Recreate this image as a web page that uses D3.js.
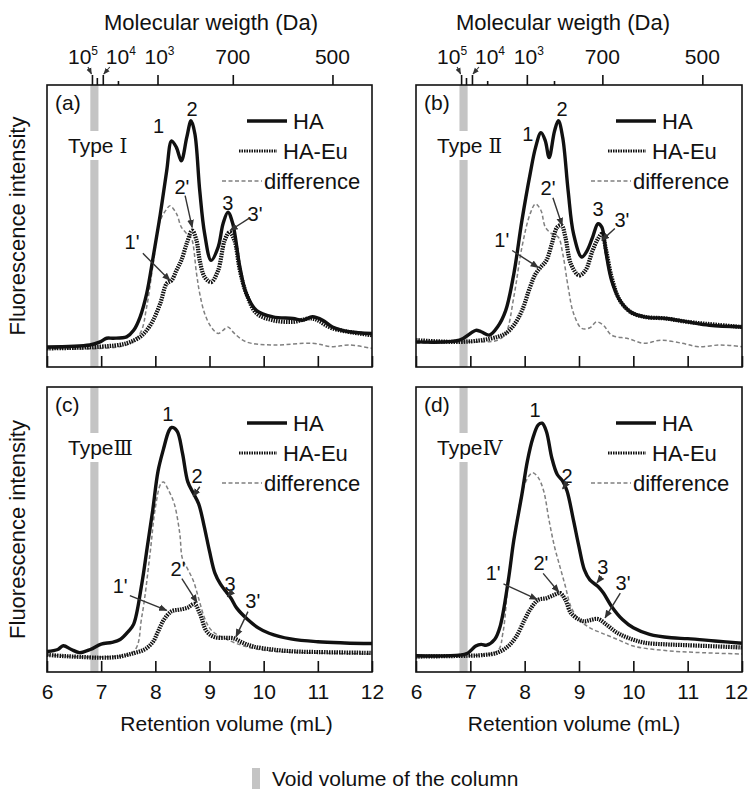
<!DOCTYPE html>
<html>
<head>
<meta charset="utf-8">
<script src="https://cdn.jsdelivr.net/npm/d3@7"></script>
<style>
  body { margin: 0; background: #fff; }
  svg { font-family: "Liberation Sans", Arial, sans-serif; }
</style>
</head>
<body>
<div id="chart"></div>
<script>
// retention volume (mL) vs fluorescence intensity (arbitrary, 0-100 of panel height)
var haA = [[6.0,7.1],[6.79,7.8],[6.98,8.9],[7.1,10.2],[7.22,10.2],[7.47,10.7],[7.6,13],[7.72,17.8],[7.84,26],[7.96,39],[8.09,54],[8.21,69.6],[8.3,80.2],[8.39,77.8],[8.48,73.1],[8.58,81.4],[8.66,87.3],[8.73,82.7],[8.82,62.5],[8.91,47.3],[9.03,37.8],[9.16,42.5],[9.25,50.8],[9.34,54.9],[9.43,50.8],[9.56,35.5],[9.68,26],[9.87,20],[10.17,17.8],[10.54,17.2],[10.72,16.6],[10.9,17.8],[11.09,16.6],[11.27,14.2],[11.58,12.5],[12.0,11.9]];
var euA = [[6.0,6.6],[6.98,7.2],[7.47,8.4],[7.72,10.7],[7.84,13],[7.96,16.6],[8.09,22.5],[8.21,29.6],[8.3,30.7],[8.39,34.3],[8.48,37.8],[8.58,43.8],[8.68,48.4],[8.76,44.9],[8.82,37.8],[8.91,31.9],[9.03,30.1],[9.16,34.3],[9.28,44.9],[9.37,47.8],[9.46,44.9],[9.56,34.3],[9.68,26],[9.87,19],[10.17,16.6],[10.54,16],[10.9,17.2],[11.27,13.7],[12.0,11.3]];
var difA = [[6.0,6.6],[7.47,7.8],[7.72,12],[7.84,21.3],[7.96,36.6],[8.09,51.9],[8.21,56],[8.27,57.2],[8.39,54.4],[8.48,49.6],[8.58,47.3],[8.66,46],[8.76,33.2],[8.82,26],[8.91,19],[9.03,14.2],[9.16,11.9],[9.25,13],[9.34,14.2],[9.46,11.9],[9.68,8.9],[10.17,7.8],[10.9,8.4],[11.27,7.2],[11.58,7.8],[12.0,6.6]];

var haB = [[6.0,8.9],[6.8,9.5],[7.0,11.9],[7.1,13],[7.2,12.5],[7.35,11.3],[7.5,14.2],[7.65,20],[7.8,33],[7.95,52],[8.1,68.4],[8.2,77.8],[8.3,83.1],[8.38,80.2],[8.45,74.3],[8.55,83.7],[8.62,87.3],[8.7,81.4],[8.8,62.5],[8.9,47.2],[9.05,39],[9.15,41.3],[9.25,46],[9.35,50.8],[9.42,49.6],[9.5,40.2],[9.6,30.7],[9.75,23.7],[9.95,19.5],[10.2,17.8],[10.6,17.2],[11.0,16],[11.4,14.8],[12.0,14.2]];
var euB = [[6.0,9.5],[6.8,8.9],[7.2,9.5],[7.5,10.7],[7.65,11.9],[7.8,14.8],[7.95,20],[8.1,28.4],[8.2,33],[8.3,35.5],[8.4,37.8],[8.5,43.7],[8.6,49.6],[8.68,50.2],[8.75,46],[8.85,36.6],[9.0,32.5],[9.12,34.3],[9.25,41.3],[9.35,45.5],[9.42,47.2],[9.5,41.3],[9.6,31.9],[9.75,23.7],[9.95,19.5],[10.2,17.8],[10.6,17.2],[11.0,16],[12.0,14.2]];
var difB = [[6.0,8.4],[6.8,8.9],[7.5,9.5],[7.65,11.9],[7.8,24.8],[7.95,42.5],[8.1,54.3],[8.2,57.8],[8.3,55.5],[8.38,49.6],[8.5,47.2],[8.62,46],[8.7,40.3],[8.8,28.4],[8.9,19],[9.05,13.7],[9.2,13.9],[9.32,16],[9.45,14.8],[9.6,11.3],[9.9,10.1],[10.2,8.4],[10.5,9.5],[10.9,8.4],[11.2,7.2],[11.6,7.8],[12.0,7.2]];

var haC = [[6.0,7.2],[6.2,7.9],[6.3,9.2],[6.45,7.9],[6.6,6.8],[6.8,7.9],[7.0,9.8],[7.2,10.4],[7.35,11.4],[7.5,14.2],[7.6,16.8],[7.75,30.9],[7.85,43.7],[7.95,56.5],[8.05,70.5],[8.15,78.2],[8.25,84.6],[8.3,85.8],[8.4,84.6],[8.5,76.9],[8.6,66.7],[8.7,62.8],[8.8,59],[8.9,51.3],[9.0,42.4],[9.1,34.7],[9.2,30.9],[9.3,28.3],[9.4,25.8],[9.5,22.5],[9.7,18.5],[9.9,15.5],[10.1,13.6],[10.5,11.6],[11.0,10.6],[11.5,10.2],[12.0,10]];
var euC = [[6.0,6.0],[6.3,5.6],[6.6,5.3],[7.0,5.0],[7.3,5.3],[7.6,6.6],[7.8,7.9],[7.95,10.4],[8.05,14.2],[8.15,18.1],[8.3,21.3],[8.45,21.9],[8.6,22.6],[8.72,23.9],[8.82,20.6],[8.95,14.2],[9.1,12.2],[9.3,12],[9.45,11.8],[9.6,10.4],[9.8,9],[10.2,7.8],[10.6,7.2],[11.0,7],[12.0,6.7]];
var difC = [[6.0,6.0],[7.0,5.3],[7.6,7.2],[7.75,19.4],[7.9,41.1],[8.0,57.7],[8.1,66],[8.15,66.7],[8.25,63.5],[8.35,59],[8.45,48.8],[8.5,39.8],[8.6,36],[8.7,32.1],[8.8,25.8],[8.9,19.4],[9.0,15.5],[9.1,13.6],[9.3,11.6],[9.5,10],[9.8,8.3],[10.2,7.2],[11.0,6.6],[12.0,6.3]];

var haD = [[6.0,5.7],[6.8,5.9],[6.95,6.6],[7.1,9.1],[7.2,9.7],[7.3,9.4],[7.45,11.5],[7.55,16.1],[7.7,32.3],[7.8,46.2],[7.95,62.4],[8.05,74],[8.15,82],[8.25,86.7],[8.32,87.3],[8.4,84.4],[8.5,75.1],[8.6,69.3],[8.7,67],[8.78,63.5],[8.9,53.1],[9.0,43.9],[9.1,35.8],[9.2,32.3],[9.35,30],[9.45,27.7],[9.6,23],[9.8,18.4],[10.0,15.5],[10.3,13.2],[10.7,12],[11.0,11.7],[11.5,10.9],[12.0,10.1]];
var euD = [[6.0,5.4],[6.95,5.7],[7.2,5.9],[7.5,6.8],[7.7,9.1],[7.85,12.6],[8.0,18.4],[8.1,21.9],[8.25,25.3],[8.4,25.9],[8.55,27.1],[8.65,27.7],[8.75,25.3],[8.85,20.7],[9.0,18.4],[9.1,17.8],[9.2,18.2],[9.35,18.6],[9.5,16.7],[9.7,13.8],[9.9,12],[10.2,10.3],[10.6,9.7],[11.0,9.4],[12.0,8.6]];
var difD = [[6.0,5.4],[7.0,5.7],[7.5,7.4],[7.6,13.8],[7.7,32.3],[7.85,53.1],[8.0,65.9],[8.1,69.3],[8.15,69.9],[8.25,68.2],[8.35,63.5],[8.45,53.1],[8.55,43.9],[8.65,36.9],[8.75,30],[8.85,23],[9.0,18.4],[9.2,15.5],[9.4,13.8],[9.7,11.5],[10.0,9.1],[10.5,7.7],[11.0,7.0],[12.0,6.3]];

// peak labels: [text, mL, intensity]
var peaksA = [["1",8.06,85.5],["2",8.68,91.5],["3",9.34,58]];
var peaksB = [["1",8.06,82.7],["2",8.69,91.5],["3",9.35,56.2]];
var peaksC = [["1",8.23,90.5]];
var peaksD = [["1",8.19,92]];
// arrowed labels: [text, labelX, labelY, fromX, fromY, toX, toY]
var arrowsA = [["2'",8.49,64,8.55,60.8,8.68,49.5],["1'",7.57,44.2,7.77,40.3,8.27,30.7],["3'",9.84,54.4,9.75,53,9.38,48.4]];
var arrowsB = [["2'",8.43,63.6,8.52,60,8.69,50.2],["1'",7.58,44.9,7.77,41.3,8.25,35.3],["3'",9.79,52,9.66,49.1,9.42,44.9]];
var arrowsC = [["2",8.77,68.8,8.82,65,8.7,61.6],["3",9.38,31,9.41,28,9.33,26.4],["2'",8.42,36,8.49,32.8,8.77,24.4],["1'",7.35,30.2,7.53,26.8,8.21,21.6],["3'",9.8,25,9.71,21.2,9.49,12.4]];
var arrowsD = [["2",8.78,68.8,8.78,66.5,8.7,64.3],["3",9.44,36.8,9.42,33.4,9.33,31.3],["2'",8.3,38.2,8.34,34.6,8.63,28],["1'",7.42,34.7,7.61,30.9,8.23,25.5],["3'",9.81,31.3,9.76,27.7,9.48,19]];

var panelNames = ["(a)", "(b)", "(c)", "(d)"];
var typeNames = ["Type ", "Type ", "Type", "Type"];
var typeNumerals = ["\u2160", "\u2161", "\u2162", "\u2163"];
var seriesNames = ["HA", "HA-Eu", "difference"];
var voidRange = [6.8, 6.95];
var xTicks = [6, 7, 8, 9, 10, 11, 12];
var mwTicks = [6.83, 7.03, 8.04, 9.43, 11.27];
var mwLabels = [["10","5"], ["10","4"], ["10","3"], ["700",""], ["500",""]];
var mwMinorA = [6.92, 7.31];
var mwMinorB = [6.92, 7.31, 8.54];

var W = 749, H = 790;
var svg = d3.select("#chart").append("svg").attr("width", W).attr("height", H);

svg.append("defs").append("marker")
  .attr("id", "arr").attr("viewBox", "0 0 10 10")
  .attr("refX", 9).attr("refY", 5)
  .attr("markerWidth", 6).attr("markerHeight", 6)
  .attr("orient", "auto")
  .append("path").attr("d", "M0,1 L10,5 L0,9 z").attr("fill", "#333");

var panels = [
  {x: 47, y: 85, w: 325, h: 282, ha: haA, eu: euA, dif: difA, peaks: peaksA, arrows: arrowsA, top: true, minor: mwMinorA, title: 164},
  {x: 416, y: 85, w: 326, h: 282, ha: haB, eu: euB, dif: difB, peaks: peaksB, arrows: arrowsB, top: true, minor: mwMinorB, title: 147},
  {x: 47, y: 387, w: 325, h: 285, ha: haC, eu: euC, dif: difC, peaks: peaksC, arrows: arrowsC, top: false},
  {x: 416, y: 387, w: 326, h: 285, ha: haD, eu: euD, dif: difD, peaks: peaksD, arrows: arrowsD, top: false}
];

var styles = [
  {stroke: "#111", width: 3.4, dash: null},
  {stroke: "#111", width: 4.2, dash: "1.5 1"},
  {stroke: "#808080", width: 1.5, dash: "4 2.5"}
];

panels.forEach(function(p, i) {
  var x = d3.scaleLinear().domain([6, 12]).range([p.x, p.x + p.w]);
  var y = d3.scaleLinear().domain([0, 100]).range([p.y + p.h, p.y]);
  var g = svg.append("g");

  // void volume band, broken behind the type label
  g.append("rect")
    .attr("x", x(voidRange[0])).attr("y", p.y)
    .attr("width", x(voidRange[1]) - x(voidRange[0])).attr("height", p.h)
    .attr("fill", "#c4c4c4");
  g.append("rect")
    .attr("x", x(voidRange[0]) - 2).attr("y", p.y + 46)
    .attr("width", x(voidRange[1]) - x(voidRange[0]) + 4).attr("height", 29)
    .attr("fill", "#fff");

  var line = d3.line()
    .x(function(d) { return x(d[0]); })
    .y(function(d) { return y(d[1]); })
    .curve(d3.curveCatmullRom.alpha(0.5));

  [p.dif, p.eu, p.ha].forEach(function(s, k) {
    var st = styles[2 - k];
    g.append("path")
      .datum(s)
      .attr("d", line)
      .attr("fill", "none")
      .attr("stroke", st.stroke)
      .attr("stroke-width", st.width)
      .attr("stroke-dasharray", st.dash)
      .attr("stroke-linejoin", "round");
  });

  // frame
  g.append("rect")
    .attr("x", p.x).attr("y", p.y).attr("width", p.w).attr("height", p.h)
    .attr("fill", "none").attr("stroke", "#111").attr("stroke-width", 1.6);

  // bottom axis, ticks pointing inward
  var bottom = d3.axisBottom(x).tickValues(xTicks).tickSize(-11).tickPadding(12)
    .tickFormat(p.top ? "" : d3.format("d"));
  var bx = g.append("g").attr("transform", "translate(0," + (p.y + p.h) + ")").call(bottom);
  bx.select(".domain").remove();
  bx.selectAll("line").attr("stroke", "#111").attr("stroke-width", 1.6);
  bx.selectAll("text").attr("font-size", 21).attr("fill", "#111");
  if (i === 3) bx.selectAll("text").filter(function(d) { return d === 12; }).attr("dx", -6);

  if (!p.top) {
    g.append("text")
      .attr("x", p.x + p.w / 2 + (i === 2 ? 17 : -5)).attr("y", 731)
      .attr("text-anchor", "middle").attr("font-size", 21).attr("fill", "#111")
      .text("Retention volume (mL)");
  }

  if (p.top) {
    var topAx = d3.axisTop(x).tickValues(mwTicks).tickSize(10).tickFormat("");
    var tx = g.append("g").attr("transform", "translate(0," + p.y + ")").call(topAx);
    tx.select(".domain").remove();
    tx.selectAll("line").attr("stroke", "#111").attr("stroke-width", 1.6);
    var minorAx = d3.axisTop(x).tickValues(p.minor).tickSize(4).tickFormat("");
    var mx = g.append("g").attr("transform", "translate(0," + p.y + ")").call(minorAx);
    mx.select(".domain").remove();
    mx.selectAll("line").attr("stroke", "#111").attr("stroke-width", 1.6);
    // medium tick between 10^5 and 10^4
    mx.selectAll("line").filter(function(d) { return d === p.minor[0]; }).attr("y2", -7);

    var offs = [-24, 3, -13, 0, 0];
    mwTicks.forEach(function(t, j) {
      var lab = mwLabels[j];
      var txt = g.append("text")
        .attr("x", x(t) + offs[j]).attr("y", 64)
        .attr("text-anchor", lab[1] ? "start" : "middle")
        .attr("font-size", 21).attr("fill", "#111");
      txt.append("tspan").text(lab[0]);
      if (lab[1]) txt.append("tspan").attr("font-size", 12).attr("dy", -9).text(lab[1]);
    });
    // little arrows from 10^5 and 10^4 labels to their ticks
    g.append("line").attr("x1", x(mwTicks[0]) - 4).attr("y1", 67).attr("x2", x(mwTicks[0]) - 0.5).attr("y2", 74)
      .attr("stroke", "#333").attr("stroke-width", 1.1).attr("marker-end", "url(#arr)");
    g.append("line").attr("x1", x(mwTicks[1]) + 7).attr("y1", 67).attr("x2", x(mwTicks[1]) + 1).attr("y2", 74)
      .attr("stroke", "#333").attr("stroke-width", 1.1).attr("marker-end", "url(#arr)");

    g.append("text")
      .attr("x", p.x + p.title).attr("y", 30)
      .attr("text-anchor", "middle").attr("font-size", 22).attr("fill", "#111")
      .text("Molecular weigth (Da)");
  }

  // panel letter and type label
  g.append("text").attr("x", p.x + 8).attr("y", p.y + 25)
    .attr("font-size", 21).attr("fill", "#111").text(panelNames[i]);
  var tt = g.append("text").attr("x", p.x + 21).attr("y", p.y + 68)
    .attr("font-size", 21).attr("fill", "#111");
  tt.append("tspan").text(typeNames[i]);
  tt.append("tspan").attr("font-family", "'DejaVu Serif', serif").attr("font-size", 20)
    .text(typeNumerals[i]);

  // legend
  var legY = [36, 66, 96];
  var legX = [[200, 240, 246], [192, 230, 236], [175, 215, 217]];
  seriesNames.forEach(function(name, k) {
    var st = styles[k];
    g.append("line")
      .attr("x1", p.x + legX[k][0]).attr("x2", p.x + legX[k][1])
      .attr("y1", p.y + legY[k]).attr("y2", p.y + legY[k])
      .attr("stroke", st.stroke).attr("stroke-width", k === 1 ? 3 : st.width)
      .attr("stroke-dasharray", st.dash);
    g.append("text")
      .attr("x", p.x + legX[k][2]).attr("y", p.y + legY[k] + 8)
      .attr("font-size", 22).attr("fill", "#111").text(name);
  });

  // peak numbers
  p.peaks.forEach(function(d) {
    g.append("text").attr("x", x(d[1])).attr("y", y(d[2]))
      .attr("text-anchor", "middle").attr("dominant-baseline", "central")
      .attr("font-size", 20).attr("fill", "#111").text(d[0]);
  });
  p.arrows.forEach(function(d) {
    g.append("text").attr("x", x(d[1])).attr("y", y(d[2]))
      .attr("text-anchor", "middle").attr("dominant-baseline", "central")
      .attr("font-size", 20).attr("fill", "#111").text(d[0]);
    g.append("line")
      .attr("x1", x(d[3])).attr("y1", y(d[4]))
      .attr("x2", x(d[5])).attr("y2", y(d[6]))
      .attr("stroke", "#333").attr("stroke-width", 1.4)
      .attr("marker-end", "url(#arr)");
  });
});

// y axis titles
[panels[0], panels[2]].forEach(function(p) {
  svg.append("text")
    .attr("transform", "translate(25," + (p.y + p.h / 2) + ") rotate(-90)")
    .attr("text-anchor", "middle").attr("font-size", 22).attr("fill", "#111")
    .text("Fluorescence intensity");
});

// void volume key
svg.append("rect").attr("x", 252).attr("y", 768).attr("width", 8).attr("height", 21).attr("fill", "#c4c4c4");
svg.append("text").attr("x", 272).attr("y", 786).attr("font-size", 21).attr("fill", "#111")
  .text("Void volume of the column");
</script>
</body>
</html>
